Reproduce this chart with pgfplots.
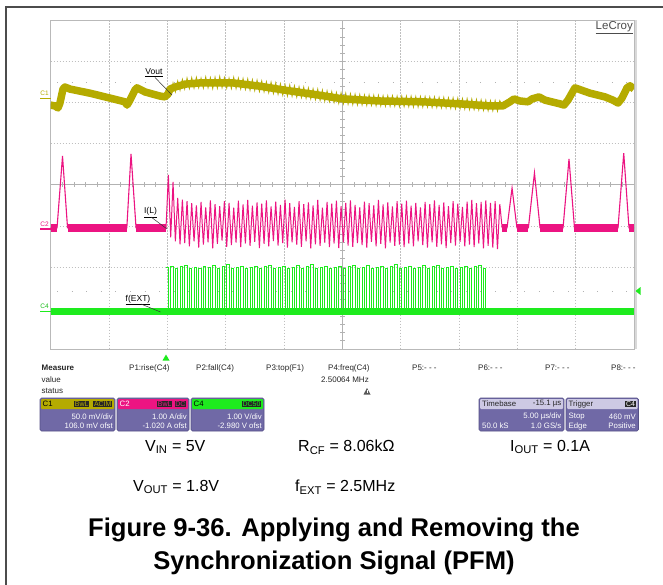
\documentclass[border=0pt]{standalone}
\usepackage{pgfplots}
\pgfplotsset{compat=1.18}
\usepackage{pgfplotstable}
\usepackage{fontspec}
\setmainfont{Liberation Sans}
\definecolor{c1col}{RGB}{181,171,0}
\definecolor{c2col}{RGB}{236,20,130}
\definecolor{c4col}{RGB}{30,235,30}
\definecolor{boxbody}{RGB}{112,105,166}
\definecolor{boxedge}{RGB}{85,80,135}
\definecolor{tbhead}{RGB}{205,201,228}

% inductor current (div) and Vout ripple (div) during synchronisation, t in us
\pgfplotstableread[row sep=\\]{
t il vo\\
9.9 -1.05 2.10\\ 10.1 0.24 2.30\\ 10.3 -1.28 2.22\\ 10.5 0.07 2.48\\ 10.7 -1.38 2.26\\
10.9 -0.32 2.53\\ 11.1 -1.45 2.30\\ 11.3 -0.36 2.57\\ 11.5 -1.42 2.33\\ 11.7 -0.40 2.60\\
11.9 -1.50 2.34\\ 12.1 -0.45 2.61\\ 12.3 -1.38 2.35\\ 12.5 -0.50 2.62\\ 12.7 -1.53 2.36\\
12.9 -0.42 2.60\\ 13.1 -1.46 2.35\\ 13.3 -0.55 2.63\\ 13.5 -1.40 2.36\\ 13.7 -0.38 2.61\\
13.9 -1.55 2.34\\ 14.1 -0.47 2.62\\ 14.3 -1.44 2.35\\ 14.5 -0.52 2.64\\ 14.7 -1.36 2.36\\
14.9 -0.40 2.61\\ 15.1 -1.51 2.35\\ 15.3 -0.44 2.60\\ 15.5 -1.47 2.34\\ 15.7 -0.56 2.62\\
15.9 -1.41 2.34\\ 16.1 -0.39 2.60\\ 16.3 -1.52 2.33\\ 16.5 -0.48 2.59\\ 16.7 -1.43 2.32\\
16.9 -0.37 2.58\\ 17.1 -1.49 2.30\\ 17.3 -0.51 2.56\\ 17.5 -1.39 2.29\\ 17.7 -0.43 2.55\\
17.9 -1.54 2.27\\ 18.1 -0.46 2.53\\ 18.3 -1.44 2.26\\ 18.5 -0.38 2.51\\ 18.7 -1.50 2.24\\
18.9 -0.53 2.50\\ 19.1 -1.37 2.22\\ 19.3 -0.41 2.48\\ 19.5 -1.48 2.20\\ 19.7 -0.49 2.46\\
19.9 -1.42 2.18\\ 20.1 -0.36 2.44\\ 20.3 -1.53 2.16\\ 20.5 -0.45 2.43\\ 20.7 -1.40 2.15\\
20.9 -0.54 2.41\\ 21.1 -1.46 2.13\\ 21.3 -0.40 2.39\\ 21.5 -1.51 2.12\\ 21.7 -0.47 2.38\\
21.9 -1.38 2.10\\ 22.1 -0.43 2.36\\ 22.3 -1.55 2.09\\ 22.5 -0.50 2.34\\ 22.7 -1.45 2.07\\
22.9 -0.37 2.33\\ 23.1 -1.49 2.05\\ 23.3 -0.56 2.31\\ 23.5 -1.41 2.03\\ 23.7 -0.42 2.29\\
23.9 -1.52 2.02\\ 24.1 -0.46 2.27\\ 24.3 -1.43 2.00\\ 24.5 -0.39 2.25\\ 24.7 -1.54 1.98\\
24.9 -0.52 2.24\\ 25.1 -1.40 1.97\\ 25.3 -0.44 2.23\\ 25.5 -1.48 1.96\\ 25.7 -0.38 2.22\\
25.9 -1.51 1.95\\ 26.1 -0.49 2.21\\ 26.3 -1.42 1.94\\ 26.5 -0.55 2.20\\ 26.7 -1.47 1.94\\
26.9 -0.41 2.19\\ 27.1 -1.53 1.93\\ 27.3 -0.45 2.19\\ 27.5 -1.39 1.93\\ 27.7 -0.50 2.18\\
27.9 -1.50 1.92\\ 28.1 -0.37 2.18\\ 28.3 -1.44 1.92\\ 28.5 -0.48 2.17\\ 28.7 -1.55 1.91\\
28.9 -0.43 2.17\\ 29.1 -1.41 1.91\\ 29.3 -0.53 2.17\\ 29.5 -1.49 1.91\\ 29.7 -0.40 2.16\\
29.9 -1.46 1.90\\ 30.1 -0.46 2.16\\ 30.3 -1.52 1.90\\ 30.5 -0.39 2.16\\ 30.7 -1.43 1.90\\
30.9 -0.51 2.16\\ 31.1 -1.50 1.89\\ 31.3 -0.44 2.15\\ 31.5 -1.38 1.89\\ 31.7 -0.55 2.15\\
31.9 -1.47 1.89\\ 32.1 -0.42 2.15\\ 32.3 -1.53 1.89\\ 32.5 -0.47 2.14\\ 32.7 -1.40 1.88\\
32.9 -0.38 2.14\\ 33.1 -1.51 1.88\\ 33.3 -0.49 2.13\\ 33.5 -1.45 1.87\\ 33.7 -0.43 2.13\\
33.9 -1.54 1.87\\ 34.1 -0.52 2.12\\ 34.3 -1.42 1.86\\ 34.5 -0.40 2.12\\ 34.7 -1.48 1.85\\
34.9 -0.46 2.11\\ 35.1 -1.39 1.85\\ 35.3 -0.54 2.10\\ 35.5 -1.50 1.84\\ 35.7 -0.41 2.10\\
35.9 -1.46 1.83\\ 36.1 -0.37 2.09\\ 36.3 -1.52 1.83\\ 36.5 -0.45 2.08\\ 36.7 -1.43 1.82\\
36.9 -0.42 2.07\\ 37.1 -1.55 1.81\\ 37.3 -0.38 2.06\\ 37.5 -1.49 1.80\\ 37.7 -0.44 2.05\\
37.9 -1.53 1.80\\ 38.1 -0.40 2.05\\ 38.3 -1.57 1.79\\ 38.5 -0.47 2.05\\ 38.7 -1.05 1.92\\
}\syncdata

% external clock f(EXT) (div), t in us
\pgfplotstableread[row sep=\\]{
t v\\
9.9 -2.02\\ 10.1 -3.10\\ 10.3 -1.98\\ 10.5 -3.06\\ 10.7 -2.04\\ 10.9 -3.13\\ 11.1 -2.00\\ 11.3 -3.08\\ 11.5 -1.96\\ 11.7 -3.04\\
11.9 -2.03\\ 12.1 -3.11\\ 12.3 -2.01\\ 12.5 -3.07\\ 12.7 -2.05\\ 12.9 -3.14\\ 13.1 -1.99\\ 13.3 -3.05\\ 13.5 -2.02\\ 13.7 -3.09\\
13.9 -1.97\\ 14.1 -3.12\\ 14.3 -2.04\\ 14.5 -3.06\\ 14.7 -2.00\\ 14.9 -3.10\\ 15.1 -1.95\\ 15.3 -3.08\\ 15.5 -2.03\\ 15.7 -3.13\\
15.9 -2.01\\ 16.1 -3.05\\ 16.3 -1.98\\ 16.5 -3.11\\ 16.7 -2.05\\ 16.9 -3.07\\ 17.1 -2.02\\ 17.3 -3.14\\ 17.5 -1.99\\ 17.7 -3.06\\
17.9 -2.04\\ 18.1 -3.09\\ 18.3 -2.00\\ 18.5 -3.12\\ 18.7 -1.96\\ 18.9 -3.05\\ 19.1 -2.03\\ 19.3 -3.10\\ 19.5 -2.01\\ 19.7 -3.08\\
19.9 -1.98\\ 20.1 -3.13\\ 20.3 -2.05\\ 20.5 -3.06\\ 20.7 -2.02\\ 20.9 -3.11\\ 21.1 -1.97\\ 21.3 -3.07\\ 21.5 -2.04\\ 21.7 -3.14\\
21.9 -2.00\\ 22.1 -3.05\\ 22.3 -1.95\\ 22.5 -3.09\\ 22.7 -2.03\\ 22.9 -3.12\\ 23.1 -2.01\\ 23.3 -3.06\\ 23.5 -1.99\\ 23.7 -3.10\\
23.9 -2.05\\ 24.1 -3.08\\ 24.3 -2.02\\ 24.5 -3.13\\ 24.7 -1.98\\ 24.9 -3.05\\ 25.1 -2.04\\ 25.3 -3.11\\ 25.5 -2.00\\ 25.7 -3.07\\
25.9 -1.96\\ 26.1 -3.14\\ 26.3 -2.03\\ 26.5 -3.06\\ 26.7 -2.01\\ 26.9 -3.09\\ 27.1 -1.97\\ 27.3 -3.12\\ 27.5 -2.05\\ 27.7 -3.05\\
27.9 -2.02\\ 28.1 -3.10\\ 28.3 -1.99\\ 28.5 -3.08\\ 28.7 -2.04\\ 28.9 -3.13\\ 29.1 -2.00\\ 29.3 -3.06\\ 29.5 -1.95\\ 29.7 -3.11\\
29.9 -2.03\\ 30.1 -3.07\\ 30.3 -2.01\\ 30.5 -3.14\\ 30.7 -1.98\\ 30.9 -3.05\\ 31.1 -2.05\\ 31.3 -3.09\\ 31.5 -2.02\\ 31.7 -3.12\\
31.9 -1.97\\ 32.1 -3.06\\ 32.3 -2.04\\ 32.5 -3.10\\ 32.7 -2.00\\ 32.9 -3.08\\ 33.1 -1.96\\ 33.3 -3.13\\ 33.5 -2.03\\ 33.7 -3.05\\
33.9 -2.01\\ 34.1 -3.11\\ 34.3 -1.99\\ 34.5 -3.07\\ 34.7 -2.05\\ 34.9 -3.14\\ 35.1 -2.02\\ 35.3 -3.06\\ 35.5 -1.98\\ 35.7 -3.09\\
35.9 -2.04\\ 36.1 -3.12\\ 36.3 -2.00\\ 36.5 -3.05\\ 36.7 -1.97\\ 36.9 -3.10\\ 37.1 -2.03\\ 37.3 -3.08\\ 37.5 -3.08\\
}\extdata

\begin{document}
\begin{tikzpicture}
\begin{scope}[x=1pt,y=-1pt]
\useasboundingbox (0,0) rectangle (663,585);
\fill[white] (0,0) rectangle (663,585);
% page frame
\draw[black!70, line width=1.3pt] (663,7) -- (6,7) -- (6,585);
% graticule
\foreach \i in {1,2,3,4,6,7,8,9}
  \draw[gray!50, line width=0.6pt, dash pattern=on 1.2pt off 1.8pt] ({50.5+58.35*\i},20.5) -- ({50.5+58.35*\i},349);
\foreach \j in {1,2,3,5,6,7}
  \draw[gray!50, line width=0.6pt, dash pattern=on 1.2pt off 1.8pt] (50.5,{20.5+41.0625*\j}) -- (634,{20.5+41.0625*\j});
\draw[gray!60, line width=0.9pt] (342.25,20.5) -- (342.25,349);
\draw[gray!60, line width=0.9pt] (50.5,184.75) -- (634,184.75);
\foreach \i in {1,...,49}
  \draw[gray!60, line width=0.6pt] ({50.5+11.67*\i},182.5) -- ({50.5+11.67*\i},187);
\foreach \j in {1,...,39}
  \draw[gray!60, line width=0.6pt] (340,{20.5+8.2125*\j}) -- (344.5,{20.5+8.2125*\j});
\draw[gray!60, line width=0.9pt, dash pattern=on 0.9pt off 13.7pt] (57,82) -- (634,82);
\draw[gray!60, line width=0.9pt, dash pattern=on 0.9pt off 13.7pt] (57,291) -- (634,291);
\draw[gray!30, line width=2pt] (635.5,20.5) -- (635.5,349);
\draw[gray!55, line width=0.9pt] (50.5,20.5) rectangle (634,349);
\end{scope}

\begin{axis}[
  at={(50.5pt,-349pt)}, anchor=south west,
  width=583.5pt, height=328.5pt, scale only axis,
  xmin=0, xmax=50, ymin=-4, ymax=4,
  hide axis,
]
% C1 : Vout
\addplot[c1col, line width=7.5pt, line join=round] coordinates {
(0,1.94)(0.39,1.92)(0.64,1.87)(0.81,1.99)(1.07,2.33)(1.24,2.38)(1.67,2.33)(3.38,2.23)(5.10,2.11)
(6.38,2.02)(6.56,1.94)(6.81,2.06)(7.24,2.31)(7.41,2.36)(8.10,2.26)(9.38,2.16)(9.81,2.14)(10.07,2.21)
(10.24,2.33)(10.67,2.38)(11.52,2.45)(12.81,2.48)(14.10,2.48)(15.64,2.48)(17.95,2.40)(19.92,2.31)
(22.84,2.19)(25.06,2.09)(28.23,2.04)(31.92,2.02)(35.09,1.97)(37.66,1.92)(38.77,1.92)(39.37,2.02)
(39.72,2.09)(40.23,2.04)(40.92,2.02)(41.26,2.09)(41.86,2.14)(42.37,2.06)(43.66,1.97)(44.0,1.94)
(44.34,2.06)(44.94,2.36)(46.23,2.23)(47.51,2.14)(48.20,2.06)(48.63,1.99)(48.97,2.11)(49.40,2.36)
(49.66,2.41)(50,2.33)};
\addplot[c1col, line width=0.8pt] table[x=t,y=vo] {\syncdata};
% C2 : I(L)
\addplot[c2col, line width=8pt, unbounded coords=jump] coordinates {
(0,-1.05)(0.56,-1.05)(1,nan)(1.46,-1.05)(6.54,-1.05)(7,nan)(7.33,-1.05)(9.9,-1.05)(20,nan)
(38.7,-1.05)(39.12,-1.05)(39.5,nan)(39.97,-1.05)(40.95,-1.05)(41.5,nan)(41.95,-1.05)(43.92,-1.05)
(44.5,nan)(44.9,-1.05)(48.63,-1.05)(49,nan)(49.57,-1.05)(50,-1.05)};
\addplot[c2col, line width=1.1pt] coordinates {
(0,-1.05)(0.56,-1.05)(1.03,0.70)(1.46,-1.05)(6.54,-1.05)(6.90,0.75)(7.33,-1.05)(9.9,-1.05)};
\addplot[c2col, line width=1pt] table[x=t,y=il] {\syncdata};
\addplot[c2col, line width=1.1pt] coordinates {
(38.7,-1.05)(39.12,-1.05)(39.55,-0.08)(39.97,-1.05)(40.95,-1.05)(41.47,0.29)(41.95,-1.05)
(43.92,-1.05)(44.43,0.63)(44.9,-1.05)(48.63,-1.05)(49.12,0.77)(49.57,-1.05)(50,-1.05)};
% C4 : f(EXT)
\addplot[c4col, line width=7pt] coordinates {(0,-3.075)(50,-3.075)};
\addplot[c4col, line width=1pt, const plot] table[x=t,y=v] {\extdata};
\end{axis}

\begin{scope}[x=1pt,y=-1pt]
% channel markers and trace labels
\node[text=c1col, font=\fontsize{6.5}{7}\selectfont, inner sep=0pt] at (44.5,93) {C1};
\draw[c1col, line width=1pt] (40,98.5) -- (50.5,98.5);
\node[text=c2col, font=\fontsize{6.5}{7}\selectfont, inner sep=0pt] at (44.5,224) {C2};
\draw[c2col, line width=1pt] (40,229) -- (50.5,229);
\node[text=c4col!80!black, font=\fontsize{6.5}{7}\selectfont, inner sep=0pt] at (44.5,306) {C4};
\draw[c4col, line width=1pt] (40,311) -- (50.5,311);

\node[font=\fontsize{8.5}{9}\selectfont, inner sep=0pt, anchor=base] at (154,74.5) {\underline{Vout}};
\draw[black!80, line width=0.5pt] (155,77.5) -- (172,95);
\node[font=\fontsize{8.5}{9}\selectfont, inner sep=0pt, anchor=base] at (150.5,214) {\underline{I(L)}};
\draw[black!80, line width=0.5pt] (151,217) -- (167,229);
\node[font=\fontsize{8.5}{9}\selectfont, inner sep=0pt, anchor=base] at (138,301) {\underline{f(EXT)}};
\draw[black!80, line width=0.5pt] (141,304) -- (160.5,312);

\node[font=\fontsize{11.5}{12}\selectfont, text=black!70, inner sep=0pt, anchor=east] at (633,27.5) {\underline{LeCroy}};

% trigger markers
\fill[c4col] (640.5,287) -- (640.5,295) -- (635.5,291) -- cycle;
\fill[c4col] (162.5,360.5) -- (169.5,360.5) -- (166,354.5) -- cycle;

% measure table
\begin{scope}[every node/.style={inner sep=0pt, anchor=west, font=\fontsize{8}{9}\selectfont, text=black!85}]
\node[font=\fontsize{8}{9}\selectfont\bfseries] at (41.5,368) {Measure};
\node at (41.5,379.5) {value};
\node at (41.5,391) {status};
\node at (129,368) {P1:rise(C4)};
\node at (196,368) {P2:fall(C4)};
\node at (266,368) {P3:top(F1)};
\node at (328,368) {P4:freq(C4)};
\node at (412,368) {P5:- - -};
\node at (478,368) {P6:- - -};
\node at (545,368) {P7:- - -};
\node at (611,368) {P8:- - -};
\node at (321,379.5) {2.50064 MHz};
\end{scope}
\fill[black!65] (363.5,394.5) -- (370.5,394.5) -- (367,388) -- cycle;
\fill[white] (366.6,390) rectangle (367.4,392.6);

% channel boxes
\begin{scope}[every node/.style={inner sep=0pt, font=\fontsize{7.8}{9}\selectfont}]
% C1
\filldraw[fill=boxbody, draw=boxedge, line width=0.6pt, rounded corners=1.5pt] (40,398) rectangle (115,431);
\fill[c1col, rounded corners=1pt] (41,399) rectangle (114,409);
\node[anchor=west, text=black] at (42.5,404) {C1};
\node[anchor=east, fill=black!85, text=c1col, inner sep=0.8pt, font=\fontsize{7}{8}\selectfont] at (89.5,404) {BwL};
\node[anchor=east, fill=black!85, text=c1col, inner sep=0.8pt, font=\fontsize{7}{8}\selectfont] at (112.5,404) {ACIM};
\node[anchor=east, text=white] at (113,416.5) {50.0 mV/div};
\node[anchor=east, text=white] at (113,426) {106.0 mV ofst};
% C2
\filldraw[fill=boxbody, draw=boxedge, line width=0.6pt, rounded corners=1.5pt] (117,398) rectangle (189,431);
\fill[c2col, rounded corners=1pt] (118,399) rectangle (188,409);
\node[anchor=west, text=white] at (119.5,404) {C2};
\node[anchor=east, fill=black!85, text=c2col, inner sep=0.8pt, font=\fontsize{7}{8}\selectfont] at (172.5,404) {BwL};
\node[anchor=east, fill=black!85, text=c2col, inner sep=0.8pt, font=\fontsize{7}{8}\selectfont] at (186.5,404) {DC};
\node[anchor=east, text=white] at (187,416.5) {1.00 A/div};
\node[anchor=east, text=white] at (187,426) {-1.020 A ofst};
% C4
\filldraw[fill=boxbody, draw=boxedge, line width=0.6pt, rounded corners=1.5pt] (191,398) rectangle (264,431);
\fill[c4col, rounded corners=1pt] (192,399) rectangle (263,409);
\node[anchor=west, text=black] at (193.5,404) {C4};
\node[anchor=east, fill=black!85, text=c4col, inner sep=0.8pt, font=\fontsize{7}{8}\selectfont] at (261.5,404) {DC50};
\node[anchor=east, text=white] at (262,416.5) {1.00 V/div};
\node[anchor=east, text=white] at (262,426) {-2.980 V ofst};
% Timebase
\filldraw[fill=boxbody, draw=boxedge, line width=0.6pt, rounded corners=1.5pt] (479,398) rectangle (564,431);
\fill[tbhead, rounded corners=1pt] (480,399) rectangle (563,409);
\node[anchor=west, text=black!85] at (482,404) {Timebase};
\node[anchor=east, text=black!85] at (561.5,404) {-15.1 µs};
\node[anchor=east, text=white] at (561.5,416.5) {5.00 µs/div};
\node[anchor=west, text=white] at (482,426) {50.0 kS};
\node[anchor=east, text=white] at (561.5,426) {1.0 GS/s};
% Trigger
\filldraw[fill=boxbody, draw=boxedge, line width=0.6pt, rounded corners=1.5pt] (566,398) rectangle (638.5,431);
\fill[tbhead, rounded corners=1pt] (567,399) rectangle (637.5,409);
\node[anchor=west, text=black!85] at (568.5,404) {Trigger};
\node[anchor=east, fill=black!85, text=white, inner sep=0.8pt, font=\fontsize{7}{8}\selectfont] at (636,404) {C4};
\node[anchor=west, text=white] at (568.5,416.5) {Stop};
\node[anchor=east, text=white] at (636,416.5) {460 mV};
\node[anchor=west, text=white] at (568.5,426) {Edge};
\node[anchor=east, text=white] at (636,426) {Positive};
\end{scope}

% conditions and caption
\begin{scope}[every node/.style={inner sep=0pt, anchor=west, font=\fontsize{16}{19}\selectfont}]
\node at (145,447) {V\textsubscript{IN} = 5V};
\node at (298,447) {R\textsubscript{CF} = 8.06kΩ};
\node at (510,447) {I\textsubscript{OUT} = 0.1A};
\node at (133,487) {V\textsubscript{OUT} = 1.8V};
\node at (295,487) {f\textsubscript{EXT} = 2.5MHz};
\end{scope}
\node[inner sep=0pt, align=center, font=\fontsize{25.6}{33}\selectfont\bfseries] at (334,546) {Figure 9-36. Applying and Removing the\\Synchronization Signal (PFM)};
\end{scope}
\end{tikzpicture}
\end{document}
